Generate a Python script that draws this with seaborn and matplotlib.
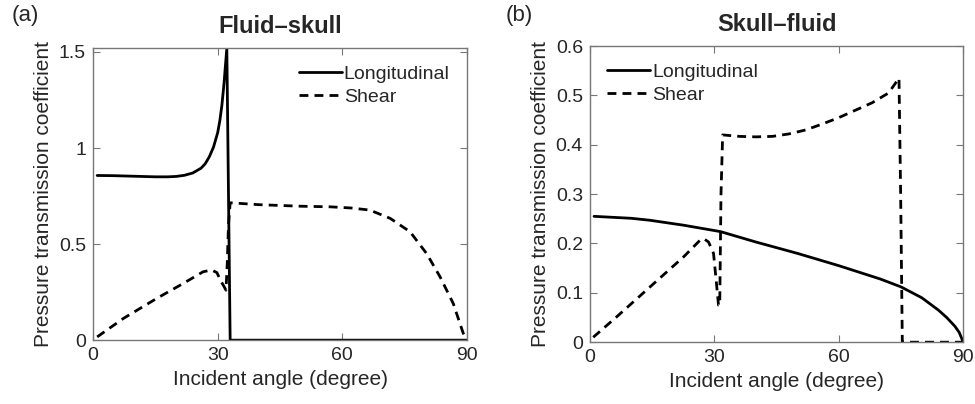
import numpy as np
import pandas as pd
import matplotlib
matplotlib.use('Agg')
import matplotlib.pyplot as plt
import seaborn as sns

# (a) fluid -> skull
a_long_x = [1, 5, 10, 15, 18, 20, 22, 24, 26, 27, 28, 29, 30, 30.5, 31, 31.5, 32.2, 33, 40, 60, 90]
a_long_y = [0.857, 0.856, 0.853, 0.850, 0.850, 0.852, 0.858, 0.870, 0.895, 0.918, 0.955, 1.005, 1.08, 1.14, 1.22, 1.33, 1.52, 0.0, 0.0, 0.0, 0.0]
a_shear_x = [1, 7.3, 15.3, 21.7, 26.5, 28.5, 29.8, 30.7, 31.5, 32.0, 32.3, 32.6, 33, 40, 50, 57, 62, 66.6, 71.5, 76.3, 80.3, 83.5, 86.7, 89.1, 90]
a_shear_y = [0.017, 0.113, 0.217, 0.295, 0.356, 0.365, 0.352, 0.31, 0.28, 0.26, 0.40, 0.60, 0.715, 0.705, 0.697, 0.694, 0.688, 0.677, 0.634, 0.564, 0.45, 0.33, 0.19, 0.035, 0.0]

# (b) skull -> fluid
b_long_x = [1, 10, 14.5, 22.6, 31.5, 40, 50, 60, 70, 75, 80, 84, 86, 88, 89, 90]
b_long_y = [0.255, 0.251, 0.247, 0.237, 0.224, 0.203, 0.180, 0.155, 0.128, 0.112, 0.090, 0.065, 0.050, 0.032, 0.02, 0.0]
b_shear_x = [0.8, 6.4, 14.5, 22.6, 26.6, 27.4, 28.6, 29.8, 30.5, 31.0, 31.3, 31.6, 32, 36, 40, 44, 48, 52, 56, 60, 64, 68, 72, 74.5, 74.9, 75.3, 80, 90]
b_shear_y = [0.01, 0.051, 0.112, 0.173, 0.207, 0.21, 0.203, 0.18, 0.12, 0.075, 0.075, 0.30, 0.42, 0.417, 0.416, 0.417, 0.422, 0.43, 0.442, 0.455, 0.47, 0.485, 0.505, 0.535, 0.30, 0.0, 0.0, 0.0]

sns.set_style('ticks')
plt.rcParams['font.family'] = ['Liberation Sans', 'DejaVu Sans']
plt.rcParams['xtick.direction'] = 'in'
plt.rcParams['ytick.direction'] = 'in'

fig = plt.figure(figsize=(9.75, 4.04), dpi=100)
ax1 = fig.add_axes([0.0954, 0.158, 0.3836, 0.723])
ax2 = fig.add_axes([0.605, 0.153, 0.383, 0.733])


def draw(ax, lx, ly, sx, sy, title, ylim, yticks, yticklabels, loc, letter, lx_fig):
    sns.lineplot(x=lx, y=ly, ax=ax, color='black', linewidth=2.0, sort=False,
                 estimator=None, label='Longitudinal')
    sns.lineplot(x=sx, y=sy, ax=ax, color='black', linewidth=2.0, sort=False,
                 estimator=None, label='Shear', dashes=False)
    ax.lines[1].set_dashes((3.2, 2.2))
    ax.set_xlim(0, 90)
    ax.set_ylim(*ylim)
    ax.set_xticks([0, 30, 60, 90])
    ax.set_xticklabels(['0', '30', '60', '90'])
    ax.set_yticks(yticks)
    ax.set_yticklabels(yticklabels)
    ax.tick_params(labelsize=14, length=5, width=0.8, color='#777777',
                   top=True, right=True, pad=5)
    for sp in ax.spines.values():
        sp.set_visible(True)
        sp.set_color('#777777')
        sp.set_linewidth(1.0)
    ax.set_xlabel('Incident angle (degree)', fontsize=15, labelpad=4)
    ax.set_ylabel('Pressure transmission coefficient', fontsize=15, labelpad=4)
    ax.set_title(title, fontsize=17, fontweight='bold', pad=11)
    leg = ax.legend(loc=loc, frameon=False, fontsize=14, handlelength=2.2,
                    handletextpad=0.1, labelspacing=0.25, borderaxespad=0.5)
    leg.get_lines()[1].set_dashes((3.2, 2.2))
    fig.text(lx_fig, 0.962, letter, fontsize=16, va='center')


draw(ax1, a_long_x, a_long_y, a_shear_x, a_shear_y, 'Fluid–skull', (0, 1.52),
     [0, 0.5, 1, 1.5], ['0', '0.5', '1', '1.5'], 'upper right', '(a)', 0.012)
draw(ax2, b_long_x, b_long_y, b_shear_x, b_shear_y, 'Skull–fluid', (0, 0.6),
     [0, 0.1, 0.2, 0.3, 0.4, 0.5, 0.6], ['0', '0.1', '0.2', '0.3', '0.4', '0.5', '0.6'],
     'upper left', '(b)', 0.519)

fig.savefig('out.png', dpi=100)
